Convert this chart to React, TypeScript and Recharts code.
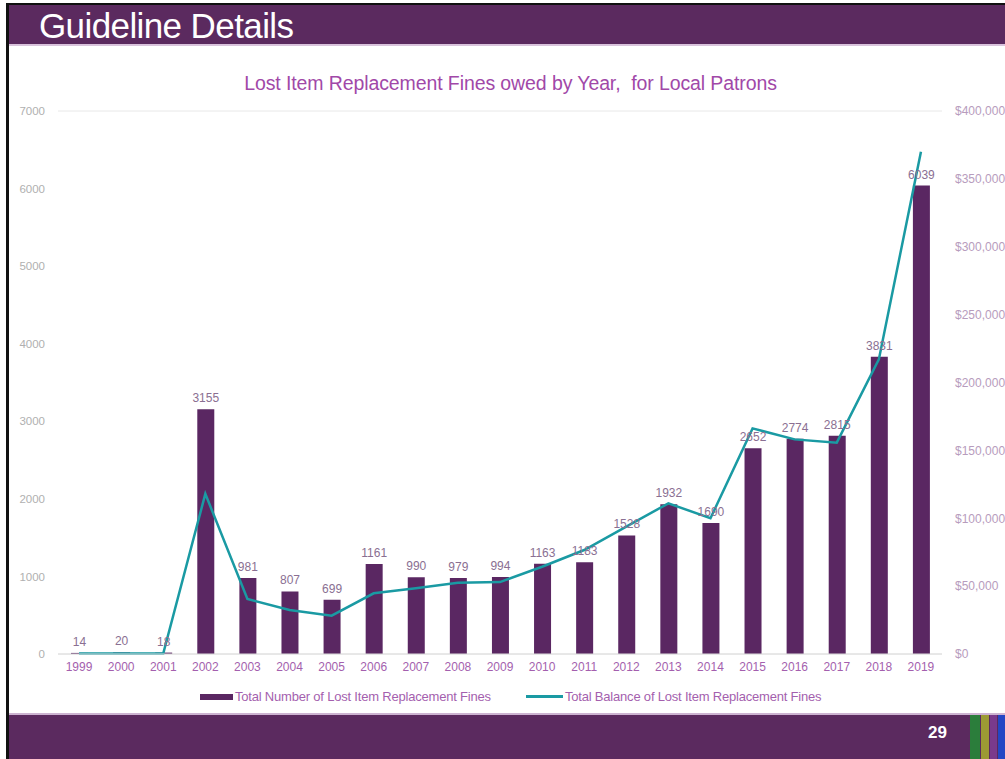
import React from 'react'
import {
  ComposedChart, Bar, Line, XAxis, YAxis, CartesianGrid, LabelList, Legend,
} from 'recharts'

const years = [
  '1999', '2000', '2001', '2002', '2003', '2004', '2005', '2006', '2007', '2008', '2009',
  '2010', '2011', '2012', '2013', '2014', '2015', '2016', '2017', '2018', '2019',
]
const fineCounts = [
  14, 20, 18, 3155, 981, 807, 699, 1161, 990, 979, 994,
  1163, 1183, 1528, 1932, 1690, 2652, 2774, 2815, 3831, 6039,
]
const fineBalances = [
  300, 300, 300, 118000, 40500, 32400, 28200, 44700, 48400, 52500, 53000,
  64300, 76600, 93800, 111000, 100000, 166200, 158100, 155700, 217000, 370000,
]
const countTicks = [0, 1000, 2000, 3000, 4000, 5000, 6000, 7000]
const balanceTicks = [0, 50000, 100000, 150000, 200000, 250000, 300000, 350000, 400000]

const data = years.map((year, i) => ({
  year,
  count: fineCounts[i],
  balance: fineBalances[i],
}))

const PURPLE = '#5a2762'
const TEAL = '#1a9aa3'
const FONT = '"Liberation Sans", Arial, sans-serif'

const fmtMoney = (v: number) => '$' + v.toLocaleString('en-US')

function LegendContent() {
  return (
    <div style={{ display: 'flex', fontFamily: FONT, fontSize: 13, color: '#a45fae', letterSpacing: -0.2 }}>
      <div style={{ position: 'absolute', left: 200, display: 'flex', alignItems: 'center' }}>
        <span style={{ width: 33, height: 6, background: PURPLE, display: 'inline-block', marginRight: 2 }} />
        <span>Total Number of Lost Item Replacement Fines</span>
      </div>
      <div style={{ position: 'absolute', left: 526, display: 'flex', alignItems: 'center' }}>
        <span style={{ width: 37, height: 3, background: TEAL, display: 'inline-block', marginRight: 2 }} />
        <span>Total Balance of Lost Item Replacement Fines</span>
      </div>
    </div>
  )
}

export default function App() {
  return (
    <div style={{ position: 'absolute', left: 0, top: 0, width: 1005, height: 759, background: '#fff', overflow: 'hidden' }}>
      {/* slide frame */}
      <div style={{ position: 'absolute', left: 6, top: 3, width: 999, height: 2, background: '#111' }} />
      <div style={{ position: 'absolute', left: 6, top: 3, width: 3, height: 756, background: '#111' }} />
      <div style={{ position: 'absolute', left: 9, top: 5, width: 996, height: 39, background: '#5b2a5f' }} />
      <div style={{ position: 'absolute', left: 9, top: 44, width: 996, height: 2, background: '#d9c3dc' }} />
      <div style={{ position: 'absolute', left: 39, top: 7, color: '#fff', fontFamily: FONT, fontSize: 35, lineHeight: '38px', letterSpacing: -0.6 }}>
        Guideline Details
      </div>

      <div style={{ position: 'absolute', left: 9, top: 713, width: 996, height: 2, background: '#cdb3d1' }} />
      <div style={{ position: 'absolute', left: 9, top: 715, width: 996, height: 44, background: '#5b2a5f' }} />
      <div style={{ position: 'absolute', left: 928, top: 723, color: '#fff', fontFamily: FONT, fontSize: 17, fontWeight: 'bold' }}>29</div>
      <div style={{ position: 'absolute', left: 970, top: 715, width: 10, height: 44, background: '#2b7d3b' }} />
      <div style={{ position: 'absolute', left: 981, top: 715, width: 8, height: 44, background: '#9c9a34' }} />
      <div style={{ position: 'absolute', left: 990, top: 715, width: 7, height: 44, background: '#7a3a8c' }} />
      <div style={{ position: 'absolute', left: 998, top: 715, width: 7, height: 44, background: '#2446c4' }} />

      <div style={{ position: 'absolute', left: 0, top: 72, width: 1005, textAlign: 'center', paddingLeft: 16, boxSizing: 'border-box', color: '#a148a8', fontFamily: FONT, fontSize: 19.5, letterSpacing: -0.1 }}>
        Lost Item Replacement Fines owed by Year,&nbsp; for Local Patrons
      </div>

      <div style={{ position: 'absolute', left: 0, top: 0 }}>
        <ComposedChart
          width={1005}
          height={759}
          data={data}
          margin={{ top: 111, right: 13, bottom: 75, left: 8 }}
          style={{ fontFamily: FONT }}
        >
          <CartesianGrid horizontal vertical={false} stroke="#e8e8e8" />
          <XAxis
            dataKey="year"
            tickLine={false}
            axisLine={{ stroke: '#dcdcdc' }}
            tick={{ fill: '#a45fae', fontSize: 12 }}
            tickMargin={2}
            height={30}
            interval={0}
          />
          <YAxis
            yAxisId="count"
            domain={[0, 7000]}
            ticks={countTicks}
            tickLine={false}
            axisLine={false}
            tick={{ fill: '#b0b0b0', fontSize: 11.5 }}
            tickMargin={7}
            width={50}
          />
          <YAxis
            yAxisId="balance"
            orientation="right"
            domain={[0, 400000]}
            ticks={balanceTicks}
            tickFormatter={fmtMoney}
            tickLine={false}
            axisLine={false}
            tick={{ fill: '#b79cbd', fontSize: 12, textAnchor: 'start' }}
            tickMargin={7}
            width={50}
          />
          <Legend
            layout="horizontal"
            verticalAlign="middle"
            align="center"
            wrapperStyle={{ top: 689, left: 0, width: 1005, height: 16 }}
            content={<LegendContent />}
          />
          <Bar
            yAxisId="count"
            dataKey="count"
            name="Total Number of Lost Item Replacement Fines"
            fill={PURPLE}
            barSize={17}
            isAnimationActive={false}
          >
            <LabelList dataKey="count" position="top" offset={7} fill="#8a6f92" fontSize={12} />
          </Bar>
          <Line
            yAxisId="balance"
            dataKey="balance"
            name="Total Balance of Lost Item Replacement Fines"
            type="linear"
            stroke={TEAL}
            strokeWidth={2.5}
            dot={false}
            activeDot={false}
            isAnimationActive={false}
          />
        </ComposedChart>
      </div>
    </div>
  )
}
